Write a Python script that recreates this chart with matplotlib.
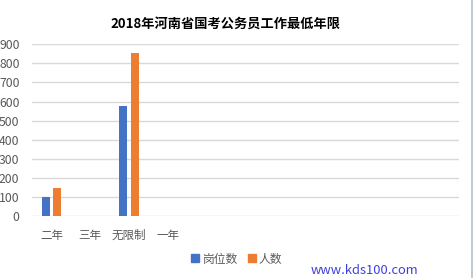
import numpy as np
import matplotlib
matplotlib.use("Agg")
import matplotlib.pyplot as plt
from matplotlib.lines import Line2D

plt.rcParams['font.family'] = ['Noto Sans CJK SC', 'DejaVu Sans']

# data
categories = ['二年', '三年', '无限制', '一年', '', '', '', '', '', '', '']
posts = [97, np.nan, 575, np.nan, np.nan, np.nan, np.nan, np.nan, np.nan, np.nan, np.nan]
people = [147, np.nan, 855, np.nan, np.nan, np.nan, np.nan, np.nan, np.nan, np.nan, np.nan]
series_names = ['岗位数', '人数']
title = '2018年河南省国考公务员工作最低年限'
yticks = list(range(0, 1000, 100))

W, H = 473, 278
fig = plt.figure(figsize=(W / 100, H / 100), dpi=100)
ax = fig.add_axes([32 / W, (H - 216) / H, (459 - 32) / W, (216 - 44.3) / H])

x = np.arange(len(categories))
bw = 0.21
off = 0.145
ax.bar(x - off, posts, bw, color='#4472C4', label=series_names[0], zorder=3)
ax.bar(x + off, people, bw, color='#ED7D31', label=series_names[1], zorder=3)

ax.set_xlim(-0.5, len(categories) - 0.5)
ax.set_ylim(0, 900)
ax.set_yticks(yticks)
ax.set_xticks(x)
ax.set_xticklabels(categories)
ax.grid(axis='y', color='#D9D9D9', lw=1, zorder=0)
ax.tick_params(axis='both', length=0, colors='#595959', labelsize=8.3)
ax.tick_params(axis='y', labelsize=8.8, pad=9)
ax.tick_params(axis='x', pad=9)
for s in ax.spines.values():
    s.set_visible(False)

fig.text(225 / W, 1 - 24 / H, title, ha='center', va='center',
         fontsize=9.5, fontweight='bold', color='black')

handles = [Line2D([], [], marker='s', ls='', color='#4472C4', markersize=5.5),
           Line2D([], [], marker='s', ls='', color='#ED7D31', markersize=5.5)]
fig.legend(handles, series_names, loc='center', bbox_to_anchor=(237 / W, 1 - 259 / H),
           ncol=2, frameon=False, fontsize=8.5, handlelength=0.6, handletextpad=0.3,
           columnspacing=0.9, labelcolor='#595959')

fig.text(364 / W, 1 - 271 / H, 'www.kds100.com', ha='center', va='center',
         fontsize=9.3, color='#3F3FDF')

fig.add_artist(Line2D([472 / W, 472 / W], [0, 1], color='#B4C0CC', lw=1.2))

fig.savefig('out.png', dpi=100)
